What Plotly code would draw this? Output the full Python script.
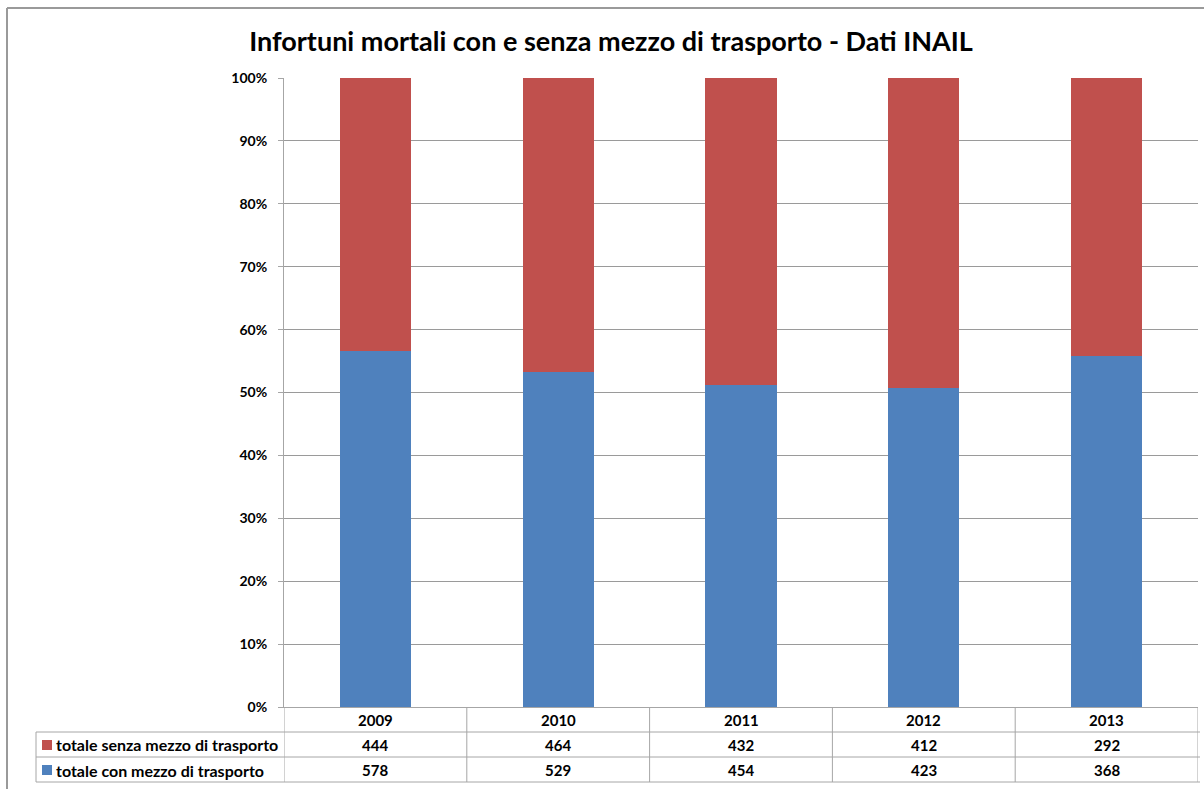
import plotly.graph_objects as go

years = ["2009", "2010", "2011", "2012", "2013"]
senza = [444, 464, 432, 412, 292]
con = [578, 529, 454, 423, 368]
series_names = ["totale senza mezzo di trasporto", "totale con mezzo di trasporto"]
title = "Infortuni mortali con e senza mezzo di trasporto - Dati INAIL"

RED = "#C0504D"
BLUE = "#4F81BD"
FONT = "Lato"

W, H = 1204, 789
L, R, T, B = 284, 6, 78, 82
PH = H - T - B
PW = W - L - R


def py(p):
    return (H - B - p) / PH


def px(p):
    return (p - L) / PW


fig = go.Figure()
fig.add_trace(go.Bar(x=years, y=con, name=series_names[1], marker=dict(color=BLUE, line=dict(width=0)), width=0.39))
fig.add_trace(go.Bar(x=years, y=senza, name=series_names[0], marker=dict(color=RED, line=dict(width=0)), width=0.39))

shapes = []
annotations = []
grey = "#A6A6A6"
# outer chart border
shapes.append(dict(type="line", xref="paper", yref="paper", x0=px(7), x1=px(1204), y0=py(8), y1=py(8), line=dict(color="#9A9A9A", width=2)))
shapes.append(dict(type="line", xref="paper", yref="paper", x0=px(7), x1=px(7), y0=py(8), y1=py(789), line=dict(color="#9A9A9A", width=2)))
# table horizontal lines
for yy in [732, 757, 782]:
    shapes.append(dict(type="line", xref="paper", yref="paper", x0=px(36), x1=px(1200), y0=py(yy), y1=py(yy), line=dict(color=grey, width=1)))
# table vertical lines
shapes.append(dict(type="line", xref="paper", yref="paper", x0=px(36), x1=px(36), y0=py(732), y1=py(782), line=dict(color=grey, width=1)))
for i in range(len(years) + 1):
    shapes.append(dict(type="line", xref="x", yref="paper", x0=i - 0.5, x1=i - 0.5, y0=py(707), y1=py(782), line=dict(color=grey, width=1)))
# legend keys
for yy, col in [(745, RED), (770, BLUE)]:
    shapes.append(dict(type="rect", xref="paper", yref="paper", x0=px(42), x1=px(52), y0=py(yy - 5), y1=py(yy + 5), fillcolor=col, line=dict(width=0)))

tfont = dict(family=FONT, size=15, color="black")
annotations.append(dict(xref="paper", yref="paper", x=px(54), y=py(745), text=f"<b>{series_names[0]}</b>", showarrow=False, xanchor="left", yanchor="middle", font=dict(family=FONT, size=16, color="black")))
annotations.append(dict(xref="paper", yref="paper", x=px(54), y=py(770), text=f"<b>{series_names[1]}</b>", showarrow=False, xanchor="left", yanchor="middle", font=dict(family=FONT, size=16, color="black")))
for i, yr in enumerate(years):
    annotations.append(dict(xref="x", yref="paper", x=i, y=py(720), text=f"<b>{yr}</b>", showarrow=False, xanchor="center", yanchor="middle", font=tfont))
    annotations.append(dict(xref="x", yref="paper", x=i, y=py(745), text=f"<b>{senza[i]}</b>", showarrow=False, xanchor="center", yanchor="middle", font=tfont))
    annotations.append(dict(xref="x", yref="paper", x=i, y=py(770), text=f"<b>{con[i]}</b>", showarrow=False, xanchor="center", yanchor="middle", font=tfont))

fig.update_layout(
    width=W, height=H,
    barmode="stack", barnorm="percent",
    paper_bgcolor="white", plot_bgcolor="white",
    margin=dict(l=L, r=R, t=T, b=B, autoexpand=False),
    showlegend=False,
    title=dict(text=f"<b>{title}</b>", xref="container", x=611 / W, xanchor="center", y=1 - 42 / H, yanchor="middle",
               font=dict(family=FONT, size=27, color="black")),
    xaxis=dict(type="category", range=[-0.5, 4.5], showticklabels=False, showgrid=False,
               showline=True, linecolor=grey, linewidth=1, ticks="", zeroline=False),
    yaxis=dict(range=[0, 100], dtick=10, showgrid=True, gridcolor="#9A9A9A", gridwidth=1,
               showline=True, linecolor=grey, linewidth=1, ticks="outside", ticklen=5, tickcolor=grey,
               ticklabelstandoff=8,
               zeroline=False, tickprefix="<b>", ticksuffix="%</b>",
               tickfont=dict(family=FONT, size=14, color="black")),
    shapes=shapes, annotations=annotations,
)
fig.write_html("out.html", config={"displayModeBar": False},
               post_script="document.body.style.margin='0';document.body.style.overflow='hidden';")
